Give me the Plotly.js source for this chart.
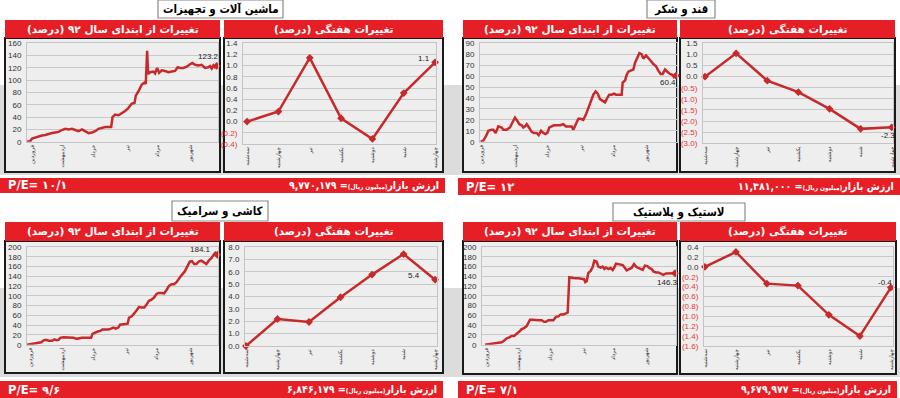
<!DOCTYPE html>
<html><head><meta charset="utf-8">
<script src="https://cdn.plot.ly/plotly-3.0.1.min.js"></script>
<style>html,body{margin:0;padding:0;background:#fff;overflow:hidden}#chart{width:900px;height:398px}</style>
</head><body><div id="chart"></div>
<script>
// ---------------- DATA ----------------
const panelTitles = ['ماشین آلات و تجهیزات', 'قند و شکر', 'کاشی و سرامیک', 'لاستیک و پلاستیک'];
const headerCum = 'تغییرات از ابتدای سال ۹۲ (درصد)';
const headerWeek = 'تغییرات هفتگی (درصد)';
const peValues = ['۱۰/۱', '۱۲', '۹/۶', '۷/۱'];
const marketValues = ['۹,۷۷۰,۱۷۹', '۱۱,۳۸۱,۰۰۰', '۶,۸۴۶,۱۷۹', '۹,۶۷۹,۹۷۷'];
const monthLabels = ['فروردین', 'اردیبهشت', 'خرداد', 'تیر', 'مرداد', 'شهریور'];
const weekLabels = ['سه‌شنبه', 'چهارشنبه', 'تیر', 'یکشنبه', 'دوشنبه', 'شنبه', 'چهارشنبه'];

const machMonthTicks = [1.6, 10.6, 19.9, 30.1, 39.1, 49];
const sugarMonthTicks = [0.3, 10.3, 20.1, 30.3, 39.8, 49.8];
const tileMonthTicks = [1, 10.5, 20, 30, 39, 49];
const plastMonthTicks = [0.5, 10, 19.5, 29.5, 38.5, 48.5];

const machDays = [0,1,1.5,2.5,3.5,4.5,5.5,6.5,7.5,8.5,9.5,10.5,11.5,12.5,13.5,14.5,15.5,16.5,17.5,18.5,19.5,20.5,21.5,22.5,23.5,24.5,25.3,25.7,26.5,27.5,28.5,29.5,30.5,31.5,32.3,32.7,33.5,34.5,35.3,35.7,36.1,36.4,37,38,38.5,39.1,39.7,40.5,41.5,42.5,43.5,44.5,45.3,46,47,48,49,49.7,50.5,51.5,52.5,53.5,54.5,55,55.5,56,56.5,57];
const machCum = [0,1,5,7,9,10,11,13,14,15,16,19,21,20,21,19,17,20,17,14,15,17,21,23,24,24,24,40,44,43,46,50,55,62,63,75,82,93,96,94,148,110,113,114,111,120,112,116,115,113,114,115,121,120,120,122,126,128,125,124,125,120,121,123,119,124,121,123.2];

const sugarDays = [0,0.8,1.6,2.3,3.3,3.8,4.5,5.3,6.3,6.8,7.8,8.8,9.6,10.3,11,11.6,12.3,12.8,13.3,13.8,14.5,15.3,16,16.8,17.4,18.1,18.8,19.4,20,20.6,21.3,22,22.8,23.8,24.8,25.6,26.3,27.3,27.8,28.6,29.3,30,30.8,31.6,32.3,33,33.8,34.5,35.1,35.8,36.6,37.3,38,38.6,39.3,40,40.6,41.3,42.3,42.6,43.3,43.8,44.3,45,45.8,46.3,47,47.6,48.3,48.8,49.6,50.3,51,51.8,52.6,53.3,54,54.6,55.3,56,56.8,57.6,58,58.6];
const sugarCum = [0,1,5,10,11,11,8,14,13,11,11,13,18,22,19,16,15,13,14,16,13,9,8,8,6,10,8,7,8,13,14,15,15,15,16,14,14,14,11,17,21,21,20,25,31,37,43,46,44,39,37,36,40,43,43,44,43,43,43,54,56,61,64,65,66,72,77,81,80,76,79,76,74,71,69,65,62,62,66,64,62,61,59,60.4];

const tileDays = [0,1,1.5,2.5,3.5,4.3,5,5.7,6.5,7.5,8.3,9,9.5,10,11,12,13,14,15,15.7,16.5,17.5,18.5,19.3,19.7,20.5,21.3,22,22.7,23.5,24.5,25.3,26,26.7,27.5,28,28.7,29.5,30.3,30.7,31.5,32.3,33,33.7,34.5,35.3,36,36.7,37.5,38.3,39,39.7,40.5,41.3,42,42.7,43.5,44.3,45,45.7,46.5,47.5,48.3,49,49.7,50.3,51,51.7,52.5,53.3,54,54.7,55.5,56.3,56.7,57.3];
const tileCum = [0,1,3,3,4,5,9,10,8,8,11,9,10,14,15,15,15,14,12,13,14,14,14,14,22,25,27,28,31,31,31,33,35,33,35,41,42,43,43,55,58,64,70,77,76,76,82,90,92,97,104,106,106,105,112,120,124,124,128,135,142,150,162,170,171,165,165,170,172,168,165,172,177,185,188,184.1];

const plastDays = [0,1,2,3,4,5,5.7,6.5,7.3,8,8.7,9.5,10.3,11,11.7,12.5,13.1,13.5,14.3,15,16,17,17.7,18.3,19,19.7,20.5,21.3,22,22.7,23.5,24.3,24.8,25.3,26,27,28,29,29.7,30.1,30.5,31,31.7,32.3,32.8,33.5,34,34.7,35.3,35.8,36.3,37,37.7,38.3,38.7,39.3,40,40.7,41.3,42,42.5,43.3,44,44.7,45.3,46,46.7,47.3,48,48.7,49.3,50,50.5,51.3,52,52.7,53.5,54.3,55,55.7,56.5,57];
const plastCum = [0,1,2,3,4,5,8,13,15,18,18,22,27,32,34,38,45,51,51,50,50,50,47,47,50,50,50,57,58,62,62,64,66,138,137,136,136,134,134,128,130,147,151,159,172,170,160,158,160,155,158,155,157,153,157,166,165,165,163,157,152,155,157,165,160,157,155,153,162,161,157,155,150,148,148,146,143,146,146,145,146,146.3];

const weekIdx = [0, 1, 2, 3, 4, 5, 6];
const machWeekly = [0, 0.18, 1.14, 0.06, -0.31, 0.51, 1.06];
const sugarWeekly = [0, 1.05, -0.18, -0.7, -1.45, -2.35, -2.28];
const tileWeekly = [0, 2.18, 1.94, 3.94, 5.77, 7.43, 5.36];
const plastWeekly = [0, 0.3, -0.34, -0.38, -0.97, -1.4, -0.42];

// ---------------- LAYOUT SPECS (pixels) ----------------
const W = 900, H = 398;
const RED = '#e61f27', LINE = '#c62a2a';
const specs = [
  {title:[158,0,283,18], hdrL:[5,20,220,38], hdrR:[224,20,443,38], boxL:[5,38,220,172], boxR:[224,38,443,172],
   plotL:[27,218,141.7,43.3], plotR:[243,436,144,43.3], bar:[0,178,445,193],
   days:machDays, cum:machCum, ticks:machMonthTicks, cumX:[0,57.4], cumY:[0,160], cumDt:20,
   wk:machWeekly, wkX:[-0.13,6.03], wkY:[-0.4,1.4], wkDt:0.2, cumShift:[-8,9], wkShift:[-11,4]},
  {title:[647,0,715,18], hdrL:[463,20,677,38], hdrR:[680,20,895,38], boxL:[463,38,677,172], boxR:[680,38,895,172],
   plotL:[480,677,141.7,43.3], plotR:[703,893,143.3,43.3], bar:[458,178,900,195],
   days:sugarDays, cum:sugarCum, ticks:sugarMonthTicks, cumX:[-0.2,58.9], cumY:[0,90], cumDt:10,
   wk:sugarWeekly, wkX:[-0.064,6.04], wkY:[-3,1.5], wkDt:0.5, cumShift:[-8,-7], wkShift:[-4,-8]},
  {title:[172,201,268,221], hdrL:[5,222,220,241], hdrR:[224,222,443,241], boxL:[5,241,220,373], boxR:[224,241,443,373],
   plotL:[27,218,344.7,247], plotR:[245,437,346,247], bar:[0,381,443,398],
   days:tileDays, cum:tileCum, ticks:tileMonthTicks, cumX:[0,57.5], cumY:[0,200], cumDt:20,
   wk:tileWeekly, wkX:[-0.03,6.06], wkY:[0,8], wkDt:1, cumShift:[-17,5], wkShift:[-21,4]},
  {title:[613,203,745,221], hdrL:[463,222,677,241], hdrR:[680,222,896,241], boxL:[463,241,677,374], boxR:[680,241,896,374],
   plotL:[482,676,344.7,247], plotR:[704,893,346,247], bar:[458,381,897,398],
   days:plastDays, cum:plastCum, ticks:plastMonthTicks, cumX:[-0.9,57.3], cumY:[0,200], cumDt:20,
   wk:plastWeekly, wkX:[-0.03,6.07], wkY:[-1.6,0.4], wkDt:0.2, cumShift:[-8,-9], wkShift:[-6,5]}
];

const RLM = '\u200F';
const fa = 'DejaVu Sans';
const faC = 'DejaVu Sans Condensed, DejaVu Sans';
const num = 'Liberation Sans, Arial, sans-serif';
const px = x => x / W, py = y => 1 - y / H;

const traces = [], shapes = [], annotations = [];
const layout = {
  width: W, height: H, margin: {l:0, r:0, t:0, b:0}, showlegend: false,
  paper_bgcolor: '#ffffff', plot_bgcolor: 'rgba(0,0,0,0)', shapes, annotations,
  font: {family: num, size: 8, color: '#333'}
};

// gray background bands
[[85,175],[288,377]].forEach(b => shapes.push({type:'rect', xref:'paper', yref:'paper', x0:0, x1:1, y0:py(b[1]), y1:py(b[0]), fillcolor:'#dcdcdc', line:{width:0}, layer:'below'}));

function rect(r, fill, lineColor, lw) {
  shapes.push({type:'rect', xref:'paper', yref:'paper', x0:px(r[0]), x1:px(r[2]), y0:py(r[3]), y1:py(r[1]),
    fillcolor: fill, line: {color: lineColor || fill, width: lw || 0}, layer:'below'});
}
function text(t, x, y, size, color, anchor, family) {
  annotations.push({text:t, xref:'paper', yref:'paper', x:px(x), y:py(y), xanchor:anchor||'center', yanchor:'middle',
    showarrow:false, font:{family:family||fa, size:size, color:color, weight:'bold'}});
}

function wkTickText(vals) {
  return vals.map(v => v < -1e-9 ? '<span style="color:#e53935">(' + Math.abs(v).toFixed(1) + ')</span>' : Math.abs(v).toFixed(1));
}
function range(a, b, s) { const out = []; for (let v = a; v <= b + s/1000; v += s) out.push(Math.round(v*1000)/1000); return out; }

specs.forEach((s, i) => {
  // frames
  rect(s.boxL, '#eeeeee', '#1a1a1a', 2);
  rect(s.boxR, '#eeeeee', '#1a1a1a', 2);
  rect(s.hdrL, RED); rect(s.hdrR, RED);
  rect(s.bar, RED);
  rect(s.title, '#ffffff', '#8a8a8a', 1.2);
  text(panelTitles[i], (s.title[0]+s.title[2])/2, (s.title[1]+s.title[3])/2 + 0.5, 11.5, '#000', 'center', faC);
  text(RLM + headerCum + RLM, (s.hdrL[0]+s.hdrL[2])/2, (s.hdrL[1]+s.hdrL[3])/2, 10.5, '#fff');
  text(RLM + headerWeek + RLM, (s.hdrR[0]+s.hdrR[2])/2, (s.hdrR[1]+s.hdrR[3])/2, 10.5, '#fff');
  text('P/E= ' + peValues[i], s.bar[0] + 6, (s.bar[1]+s.bar[3])/2, 11.5, '#fff', 'left');
  text(RLM + 'ارزش بازار<span style="font-size:6.5px">(میلیون ریال)</span>= ' + marketValues[i] + RLM,
       s.bar[2] - 4, (s.bar[1]+s.bar[3])/2, 10.5, '#fff', 'right', faC);

  const a = 2*i + 1, b = 2*i + 2;
  const xa = 'x' + a, ya = 'y' + a, xb = 'x' + b, yb = 'y' + b;
  const axLine = {showline:true, linecolor:'#c4c4c4', linewidth:1, mirror:true};
  // cumulative subplot
  layout['xaxis' + a] = Object.assign({domain:[px(s.plotL[0]), px(s.plotL[1])], range:s.cumX, anchor:ya,
    tickvals:s.ticks, ticktext:monthLabels, tickangle:-90, tickfont:{family:fa, size:5.5, color:'#333'},
    showgrid:false, zeroline:false, ticks:'', fixedrange:true}, axLine);
  layout['yaxis' + a] = Object.assign({domain:[py(s.plotL[2]), py(s.plotL[3])], range:s.cumY, anchor:xa,
    dtick:s.cumDt, tick0:0, tickfont:{family:num, size:8, color:'#333'}, showgrid:true, gridcolor:'#c8c8c8', gridwidth:1,
    zeroline:false, ticks:'', ticklabelstandoff:3, fixedrange:true}, axLine);
  traces.push({type:'scatter', mode:'lines', x:s.days, y:s.cum, xaxis:xa, yaxis:ya,
    line:{color:LINE, width:2.5, shape:'linear'}, hoverinfo:'skip'});
  const nL = s.cum.length - 1;
  traces.push({type:'scatter', mode:'markers', x:[s.days[nL]], y:[s.cum[nL]], xaxis:xa, yaxis:ya,
    marker:{symbol:'diamond', size:6, color:LINE}, cliponaxis:false, hoverinfo:'skip'});
  annotations.push({text:String(s.cum[nL]), xref:xa, yref:ya, x:s.days[nL], y:s.cum[nL], showarrow:false,
    xshift:s.cumShift[0], yshift:s.cumShift[1], font:{family:num, size:8, color:'#222'}});

  // weekly subplot
  const wt = range(s.wkY[0], s.wkY[1], s.wkDt);
  layout['xaxis' + b] = Object.assign({domain:[px(s.plotR[0]), px(s.plotR[1])], range:s.wkX, anchor:yb,
    tickvals:weekIdx, ticktext:weekLabels, tickangle:-90, tickfont:{family:fa, size:5.5, color:'#333'},
    showgrid:false, zeroline:false, ticks:'', fixedrange:true}, axLine);
  layout['yaxis' + b] = Object.assign({domain:[py(s.plotR[2]), py(s.plotR[3])], range:s.wkY, anchor:xb,
    tickvals:wt, ticktext:wkTickText(wt), tickfont:{family:num, size:8, color:'#333'},
    showgrid:true, gridcolor:'#c8c8c8', gridwidth:1, zeroline:false, ticks:'', ticklabelstandoff:3, fixedrange:true}, axLine);
  traces.push({type:'scatter', mode:'lines+markers', x:weekIdx, y:s.wk, xaxis:xb, yaxis:yb,
    line:{color:LINE, width:2.5}, marker:{symbol:'diamond', size:6, color:LINE}, cliponaxis:false, hoverinfo:'skip'});
  const nW = s.wk.length - 1;
  annotations.push({text:s.wk[nW].toFixed(1), xref:xb, yref:yb, x:weekIdx[nW], y:s.wk[nW], showarrow:false,
    xshift:s.wkShift[0], yshift:s.wkShift[1], font:{family:num, size:8, color:'#222'}});
});

Plotly.newPlot('chart', traces, layout, {staticPlot:true, displayModeBar:false});
</script>
</body></html>
